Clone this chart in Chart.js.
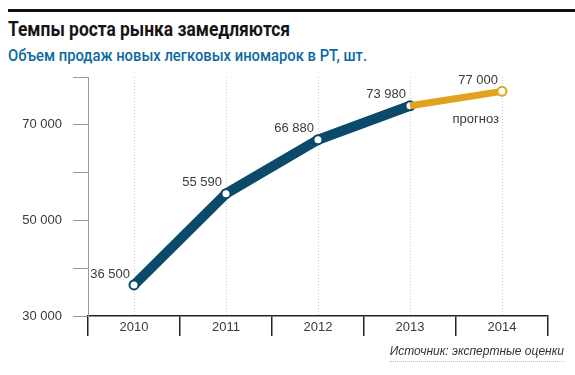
<!DOCTYPE html>
<html lang="ru">
<head>
<meta charset="UTF-8">
<title>Темпы роста рынка замедляются</title>
<script src="https://cdn.jsdelivr.net/npm/chart.js"></script>
<style>
  body {
    margin: 0;
    width: 575px;
    height: 375px;
    position: relative;
    overflow: hidden;
    background: #fff;
    font-family: "Liberation Sans", Arial, sans-serif;
  }
  .rule { position: absolute; left: 8px; right: 0; top: 9px; height: 3px; background: #111; }
  h1, h2 { position: absolute; left: 8px; margin: 0; white-space: nowrap; transform-origin: 0 0; }
  h1 { top: 17px; font-family: Roboto, sans-serif; font-size: 20px; font-weight: bold; color: #151515; }
  h2 { top: 45px; font-family: Roboto, sans-serif; font-size: 17px; font-weight: 500; color: #0d6aa2; }
  .source {
    position: absolute; right: 11px; top: 344px;
    font-size: 12px; font-style: italic; color: #333;
    border-bottom: 1px dotted #c4c4c4; padding-bottom: 3px;
  }
  canvas { position: absolute; left: 0; top: 0; }
</style>
</head>
<body>
  <div class="rule"></div>
  <h1 id="title">Темпы роста рынка замедляются</h1>
  <h2 id="subtitle">Объем продаж новых легковых иномарок в РТ, шт.</h2>
  <canvas id="chart" width="575" height="375"></canvas>
  <div class="source">Источник: экспертные оценки</div>

  <script>
    const years = ['2010', '2011', '2012', '2013', '2014'];
    const actual = [36500, 55590, 66880, 73980, null];
    const forecast = [null, null, null, 73980, 77000];
    const labelValues = [36500, 55590, 66880, 73980, 77000];
    const yLabelTicks = [30000, 50000, 70000];
    const forecastNote = 'прогноз';

    const dark = '#0b4a6b';
    const orange = '#e3a21c';
    const textColor = '#3a3a3a';

    // squeeze the headings to the narrow face used in the original
    function fitWidth(id, target) {
      const el = document.getElementById(id);
      const w = el.getBoundingClientRect().width;
      el.style.transform = 'scaleX(' + (target / w) + ')';
    }
    fitWidth('title', 282);
    fitWidth('subtitle', 359);

    // "36500" -> "36 500"
    function fmt(v) {
      return String(v).replace(/\B(?=(\d{3})+(?!\d))/g, ' ');
    }

    const annotations = {
      id: 'annotations',
      beforeDatasetsDraw(chart) {
        const { ctx, chartArea, scales: { x } } = chart;
        ctx.save();
        ctx.strokeStyle = '#c8c8c8';
        ctx.lineWidth = 1;
        ctx.setLineDash([1, 2]);
        years.forEach((_, i) => {
          const px = Math.round(x.getPixelForValue(i)) + 0.5;
          ctx.beginPath();
          ctx.moveTo(px, chartArea.top);
          ctx.lineTo(px, chartArea.bottom);
          ctx.stroke();
        });
        ctx.restore();
      },
      afterDatasetsDraw(chart) {
        const { ctx, scales: { x, y } } = chart;
        ctx.save();
        ctx.font = '13px "Liberation Sans", Arial, sans-serif';
        ctx.fillStyle = textColor;
        ctx.textAlign = 'right';
        ctx.textBaseline = 'middle';
        labelValues.forEach((v, i) => {
          const px = x.getPixelForValue(i);
          const py = y.getPixelForValue(v);
          ctx.fillText(fmt(v), px - 4, py - 11);
        });
        const last = labelValues.length - 1;
        ctx.fillText(forecastNote, x.getPixelForValue(last) - 3, y.getPixelForValue(labelValues[last]) + 28);
        ctx.restore();
      }
    };

    new Chart(document.getElementById('chart'), {
      type: 'line',
      data: {
        labels: years,
        datasets: [
          {
            data: forecast,
            borderColor: orange,
            borderWidth: 7,
            pointRadius: [0, 0, 0, 0, 4.5],
            pointBorderWidth: 2,
            pointBackgroundColor: '#fff',
            pointBorderColor: orange
          },
          {
            data: actual,
            borderColor: dark,
            borderWidth: 10,
            borderCapStyle: 'round',
            borderJoinStyle: 'round',
            pointRadius: 4.5,
            pointBorderWidth: 2,
            pointBackgroundColor: '#fff',
            pointBorderColor: dark
          }
        ]
      },
      options: {
        responsive: false,
        animation: false,
        layout: { padding: { top: 77, right: 27, left: 0, bottom: 0 } },
        plugins: {
          legend: { display: false },
          tooltip: { enabled: false }
        },
        scales: {
          x: {
            offset: true,
            afterFit: s => { s.height = 59; },
            border: { color: '#222', width: 1.5 },
            grid: {
              offset: true,
              drawOnChartArea: false,
              tickLength: 20,
              color: '#222',
              lineWidth: 1.5
            },
            ticks: {
              padding: -16,
              color: textColor,
              font: { family: '"Liberation Sans", Arial, sans-serif', size: 13 }
            }
          },
          y: {
            min: 30000,
            max: 80000,
            afterFit: s => { s.width = 88; },
            border: { color: '#999', width: 1 },
            grid: {
              drawOnChartArea: false,
              tickLength: 15,
              color: '#999'
            },
            ticks: {
              stepSize: 10000,
              padding: 11,
              color: textColor,
              font: { family: '"Liberation Sans", Arial, sans-serif', size: 13 },
              callback: v => yLabelTicks.includes(v) ? fmt(v) : ''
            }
          }
        }
      },
      plugins: [annotations]
    });
  </script>
</body>
</html>
